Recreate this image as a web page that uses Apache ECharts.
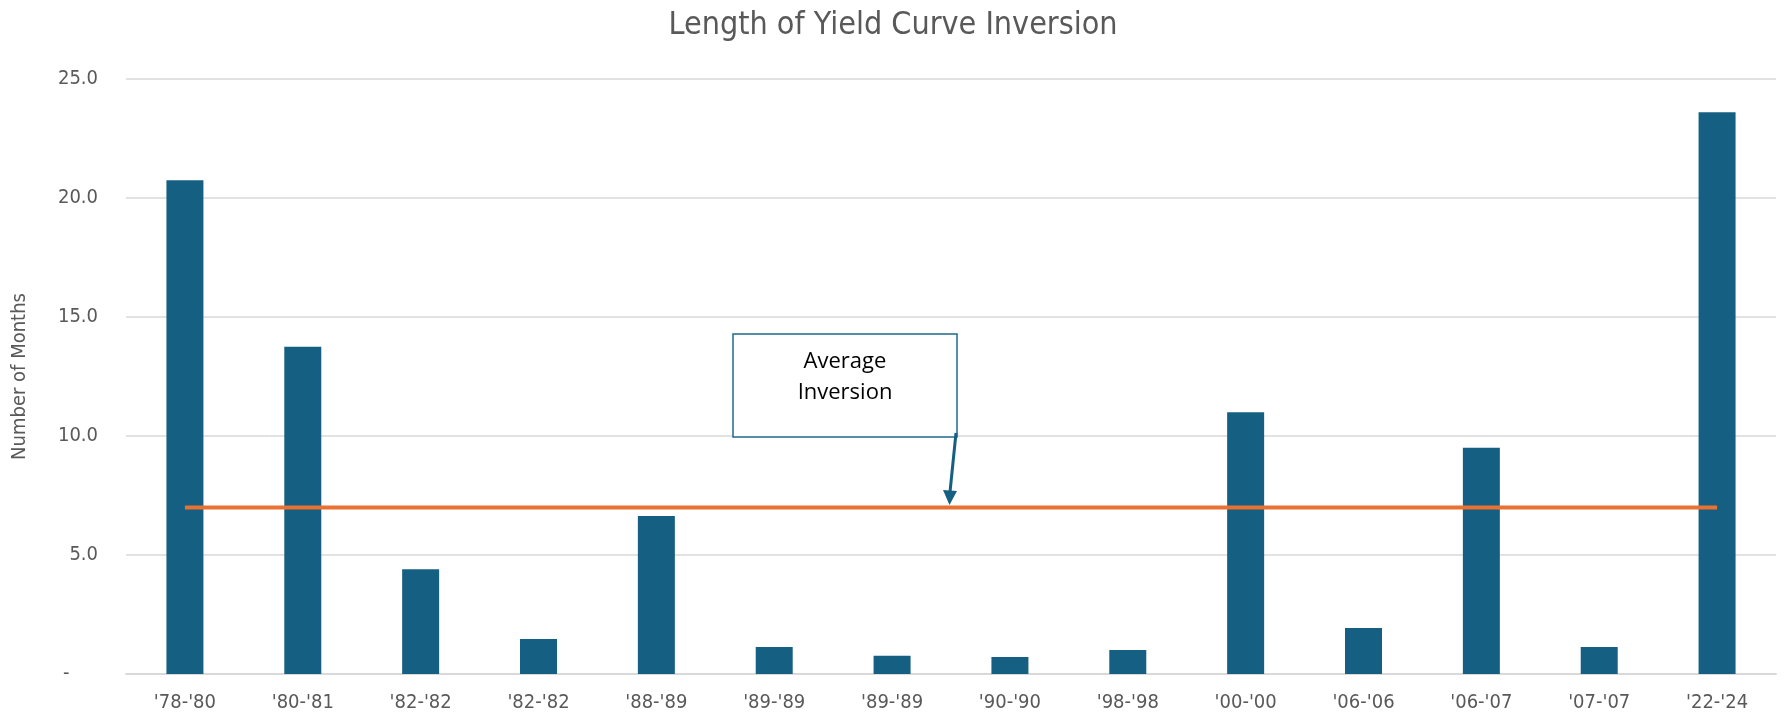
<!DOCTYPE html>
<html>
<head>
<meta charset="utf-8">
<script src="https://cdn.jsdelivr.net/npm/echarts@6/dist/echarts.min.js"></script>
<style>
  html, body { margin: 0; padding: 0; background: #fff; }
  #chart { width: 1786px; height: 716px; }
</style>
</head>
<body>
<div id="chart"></div>
<script>
// values (months)
const periods = ["'78-'80", "'80-'81", "'82-'82", "'82-'82", "'88-'89", "'89-'89", "'89-'89",
  "'90-'90", "'98-'98", "'00-'00", "'06-'06", "'06-'07", "'07-'07", "'22-'24"]
const months = [20.75, 13.75, 4.4, 1.47, 6.64, 1.13, 0.77, 0.71, 1.01, 11.0, 1.93, 9.51, 1.13, 23.6]
const averageLine = [7.0, 7.0, 7.0, 7.0, 7.0, 7.0, 7.0, 7.0, 7.0, 7.0, 7.0, 7.0, 7.0, 7.0]
const yTicks = [0, 5, 10, 15, 20, 25]

const narrow = '"Liberation Sans Narrow", "DejaVu Sans Condensed", "Roboto", sans-serif'
const chart = echarts.init(document.getElementById('chart'))

const options = {
  animation: false,
  title: {
    text: 'Length of Yield Curve Inversion',
    left: 'center',
    top: 5,
    textStyle: { color: '#595959', fontFamily: narrow, fontSize: 32, fontWeight: 'normal' }
  },
  grid: { left: 126, right: 10, top: 79, bottom: 42 },
  xAxis: {
    type: 'category',
    data: periods,
    axisTick: { show: false },
    axisLine: { lineStyle: { color: '#D9D9D9', width: 2 } },
    axisLabel: { color: '#595959', fontFamily: narrow, fontSize: 20, margin: 19 }
  },
  yAxis: {
    type: 'value',
    min: yTicks[0],
    max: yTicks[yTicks.length - 1],
    interval: 5,
    name: 'Number of Months',
    nameLocation: 'middle',
    nameGap: 96,
    nameTextStyle: { color: '#595959', fontFamily: narrow, fontSize: 20 },
    splitLine: { lineStyle: { color: '#D9D9D9', width: 1.5 } },
    axisLabel: {
      color: '#595959',
      fontFamily: narrow,
      fontSize: 20,
      margin: 28,
      formatter: v => (v === 0 ? '-     ' : v.toFixed(1))
    }
  },
  series: [
    {
      type: 'bar',
      data: months,
      barWidth: 37,
      itemStyle: { color: '#156082' }
    },
    {
      type: 'line',
      data: averageLine,
      symbol: 'none',
      lineStyle: { color: '#E97132', width: 4 },
      z: 3
    }
  ],
  graphic: [
    {
      type: 'rect',
      shape: { x: 733, y: 334, width: 224, height: 103 },
      style: { fill: '#fff', stroke: '#1F6A8A', lineWidth: 1.5 },
      z: 10
    },
    {
      type: 'text',
      x: 845,
      y: 377,
      style: {
        text: 'Average\nInversion',
        fill: '#000',
        font: '22px "Open Sans", "Noto Sans", sans-serif',
        align: 'center',
        verticalAlign: 'middle',
        lineHeight: 31
      },
      z: 11
    },
    {
      type: 'line',
      shape: { x1: 956, y1: 433, x2: 950, y2: 492 },
      style: { stroke: '#156082', lineWidth: 3 },
      z: 11
    },
    {
      type: 'polygon',
      shape: { points: [[943, 490], [957, 491], [949.5, 505]] },
      style: { fill: '#156082' },
      z: 11
    }
  ]
}
chart.setOption(options)
</script>
</body>
</html>
